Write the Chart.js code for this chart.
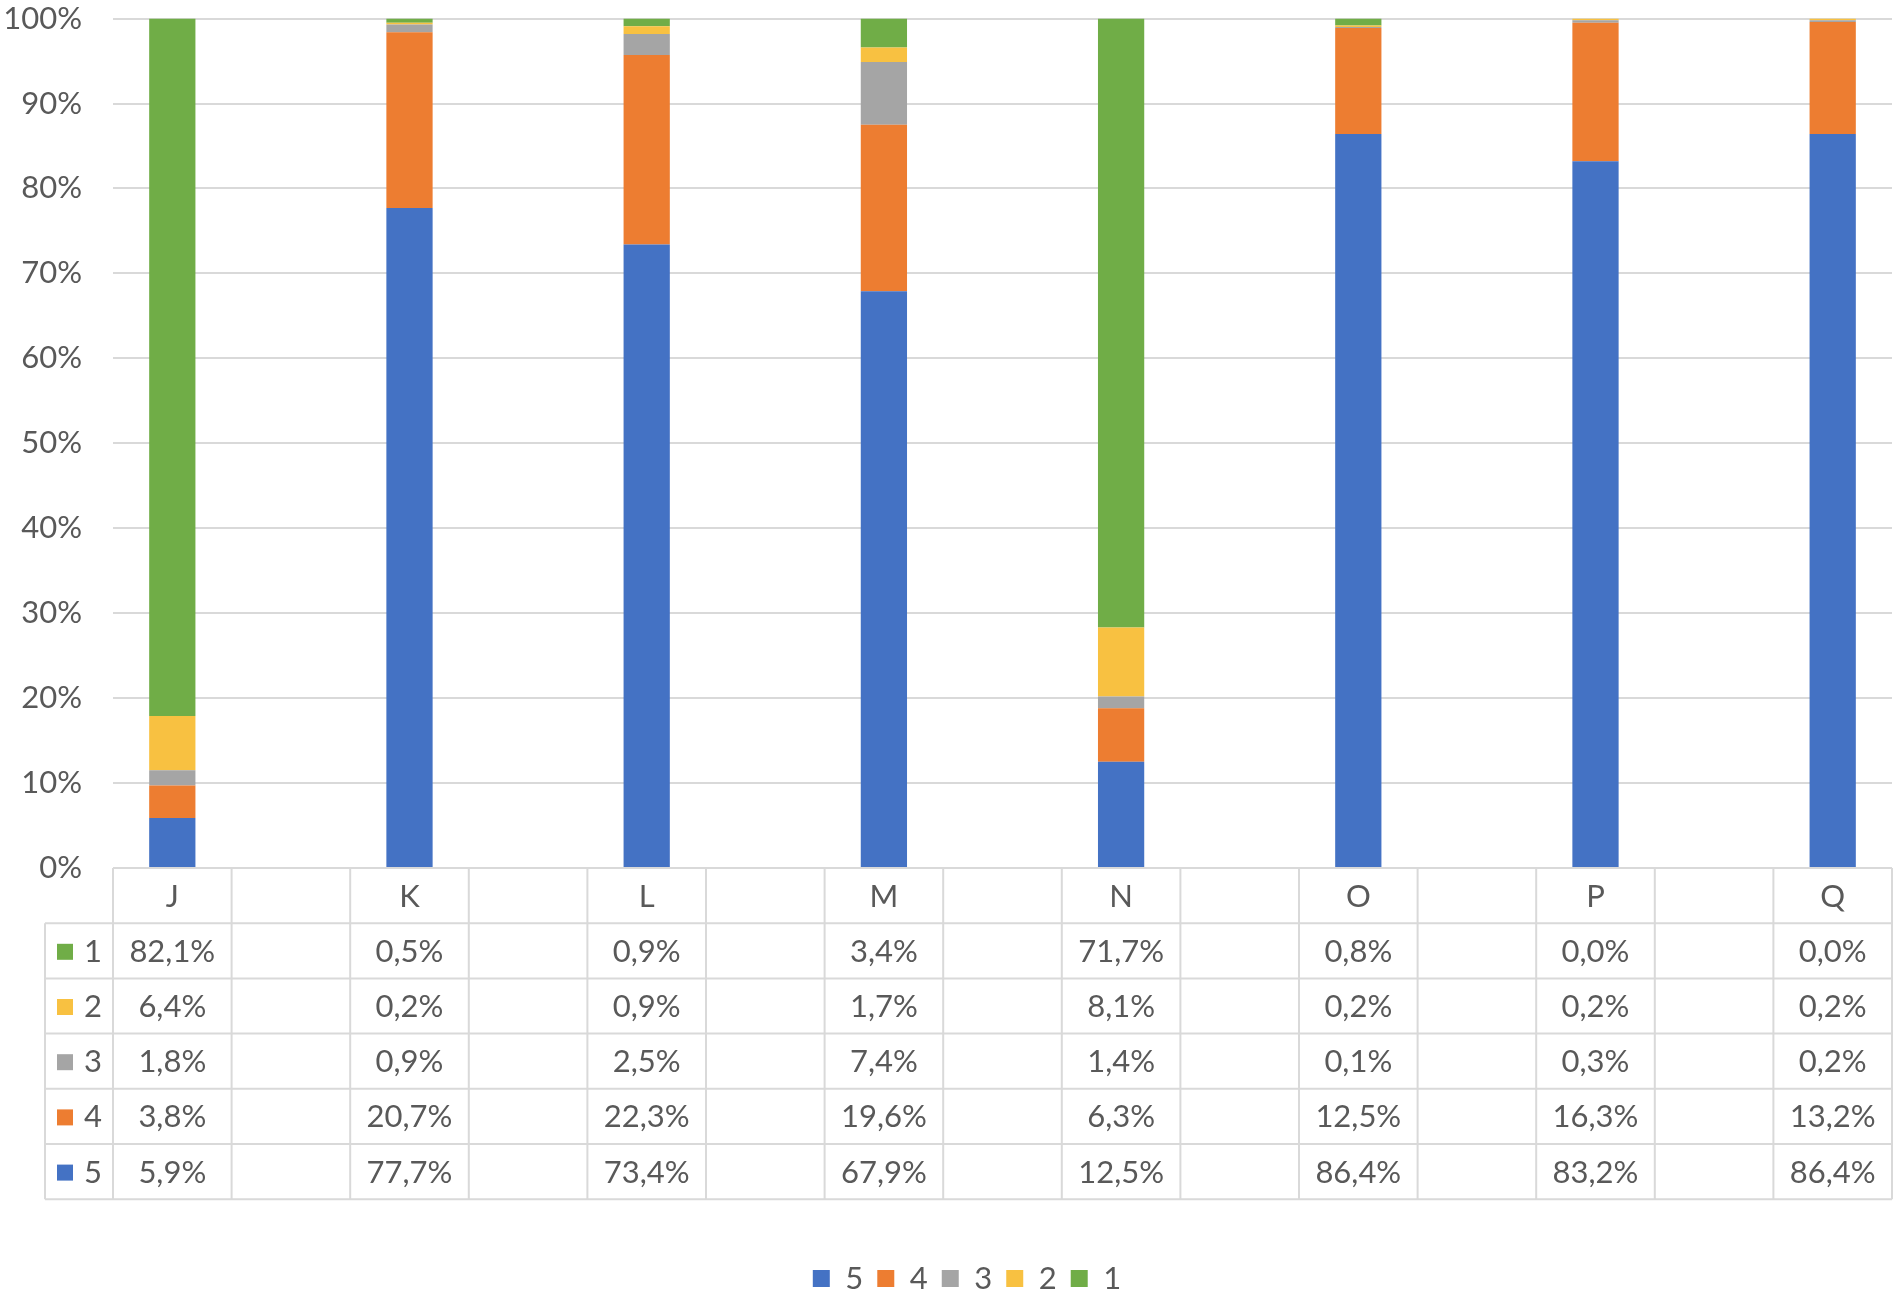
<!DOCTYPE html>
<html>
<head>
<meta charset="utf-8">
<script src="https://cdn.jsdelivr.net/npm/chart.js@4.4.0/dist/chart.umd.min.js"></script>
<style>
  html, body { margin: 0; padding: 0; background: #fff; }
  #wrap { width: 1902px; height: 1298px; position: relative; }
</style>
</head>
<body>
<div id="wrap"><canvas id="stackChart"></canvas></div>
<script>
const categories = ['J', 'K', 'L', 'M', 'N', 'O', 'P', 'Q'];
const seriesNames = ['5', '4', '3', '2', '1'];
const seriesColors = ['#4472C4', '#ED7D31', '#A5A5A5', '#F8C141', '#70AD47'];
const score5 = [5.9, 77.7, 73.4, 67.9, 12.5, 86.4, 83.2, 86.4];
const score4 = [3.8, 20.7, 22.3, 19.6, 6.3, 12.5, 16.3, 13.2];
const score3 = [1.8, 0.9, 2.5, 7.4, 1.4, 0.1, 0.3, 0.2];
const score2 = [6.4, 0.2, 0.9, 1.7, 8.1, 0.2, 0.2, 0.2];
const score1 = [82.1, 0.5, 0.9, 3.4, 71.7, 0.8, 0.0, 0.0];

const FONT = { family: 'Lato', size: 31 };
const TEXT = '#595959';
const LINE = '#D9D9D9';

// the sheet had an empty column between every group
function withGaps(arr, fill) {
    const out = [];
    arr.forEach((v, i) => {
        if (i) out.push(fill);
        out.push(v);
    });
    return out;
}

function fmt(v) {
    return v.toFixed(1).replace('.', ',') + '%';
}

const allSeries = [score5, score4, score3, score2, score1];

const datasets = allSeries.map((vals, i) => ({
    label: seriesNames[i],
    data: withGaps(vals, null),
    backgroundColor: seriesColors[i],
    borderWidth: 0,
    barPercentage: 0.39,
    categoryPercentage: 1
}));

// data table under the plot, columns follow the x scale
const dataTable = {
    id: 'dataTable',
    afterLayout(chart) {
        // legend sits a bit right of and below the default spot
        const lg = chart.legend;
        lg.left += 21; lg.right += 21;
        lg.top += 6; lg.bottom += 6;
    },
    afterDraw(chart) {
        const { ctx, chartArea } = chart;
        const x = chart.scales.x, y = chart.scales.y;
        const top = y.getPixelForValue(0);
        const colW = x.getPixelForValue(1) - x.getPixelForValue(0);
        const rowH = 55.2;
        const left = chartArea.left, right = chartArea.right;
        const keyLeft = 45;
        const bottom = top + rowH * 6;

        ctx.save();
        ctx.strokeStyle = LINE;
        ctx.lineWidth = 2;
        ctx.beginPath();
        ctx.moveTo(left, top); ctx.lineTo(right, top);
        for (let r = 1; r <= 6; r++) {
            ctx.moveTo(keyLeft, top + r * rowH);
            ctx.lineTo(right, top + r * rowH);
        }
        for (let k = 0; k <= chart.data.labels.length; k++) {
            const px = left + k * colW;
            ctx.moveTo(px, top); ctx.lineTo(px, bottom);
        }
        ctx.moveTo(keyLeft, top + rowH); ctx.lineTo(keyLeft, bottom);
        ctx.stroke();

        ctx.fillStyle = TEXT;
        ctx.font = FONT.size + 'px ' + FONT.family;
        ctx.textAlign = 'center';
        ctx.textBaseline = 'middle';
        chart.data.labels.forEach((lab, i) => {
            if (lab) ctx.fillText(lab, x.getPixelForValue(i), top + rowH / 2 + 1);
        });

        // rows top to bottom: 1, 2, 3, 4, 5
        for (let r = 0; r < 5; r++) {
            const ds = chart.data.datasets[4 - r];
            const cy = top + (r + 1.5) * rowH + 1;
            ctx.fillStyle = ds.backgroundColor;
            ctx.fillRect(57, cy - 8, 16, 16);
            ctx.fillStyle = TEXT;
            ctx.fillText(ds.label, 93, cy);
            ds.data.forEach((v, i) => {
                if (v !== null) ctx.fillText(fmt(v), x.getPixelForValue(i), cy);
            });
        }
        ctx.restore();
    }
};

new Chart(document.getElementById('stackChart'), {
    type: 'bar',
    data: {
        labels: withGaps(categories, ''),
        datasets: datasets
    },
    options: {
        responsive: true,
        maintainAspectRatio: false,
        animation: false,
        layout: { padding: { top: 0, right: 10, left: 0, bottom: 0 } },
        plugins: {
            tooltip: { enabled: false },
            legend: {
                position: 'bottom',
                labels: {
                    boxWidth: 17,
                    boxHeight: 17,
                    padding: 14,
                    color: TEXT,
                    font: FONT
                }
            }
        },
        scales: {
            x: {
                stacked: true,
                grid: { display: false },
                border: { display: false },
                ticks: { display: false },
                afterFit: (scale) => { scale.height = 375; }
            },
            y: {
                stacked: true,
                min: 0,
                max: 100,
                grid: { color: LINE, lineWidth: 2, drawTicks: true, tickLength: 31, tickColor: 'rgba(0,0,0,0)' },
                border: { display: false },
                ticks: {
                    stepSize: 10,
                    padding: 0,
                    color: TEXT,
                    font: FONT,
                    callback: (v) => v + '%'
                },
                afterFit: (scale) => { scale.width = 113; }
            }
        }
    },
    plugins: [dataTable]
});
</script>
</body>
</html>
